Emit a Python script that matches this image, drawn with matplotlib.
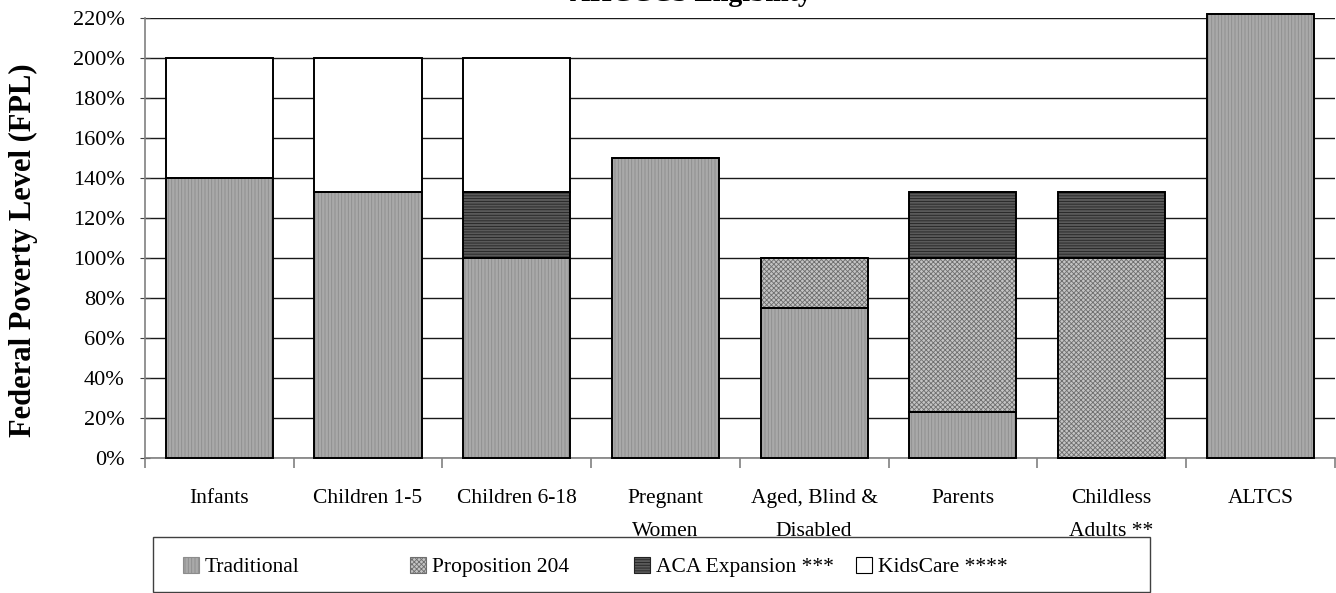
import numpy as np
from matplotlib import pyplot as plt
from matplotlib.patches import Patch, Rectangle
from matplotlib.ticker import FuncFormatter

categories = ["Infants", "Children 1-5", "Children 6-18", "Pregnant\nWomen",
              "Aged, Blind &\nDisabled", "Parents", "Childless\nAdults **", "ALTCS"]
traditional = [140, 133, 100, 150, 75, 23, 0, 222]
proposition_204 = [0, 0, 0, 0, 25, 77, 100, 0]
aca_expansion = [0, 0, 33, 0, 0, 33, 33, 0]
kidscare = [60, 67, 67, 0, 0, 0, 0, 0]

series = [
    ("Traditional", traditional, "#a9a9a9", "|||||", "#8c8c8c"),
    ("Proposition 204", proposition_204, "#c4c4c4", "xxxxxxx", "#6e6e6e"),
    ("ACA Expansion ***", aca_expansion, "#5a5a5a", "------", "#222222"),
    ("KidsCare ****", kidscare, "#ffffff", "", "#000000"),
]

plt.rcParams['font.family'] = ['Liberation Serif', 'DejaVu Serif']
plt.rcParams['hatch.linewidth'] = 0.6

fig = plt.figure(figsize=(13.36, 5.93), dpi=100)
ax = fig.add_axes([0.1085, 0.2277, 0.8905, 0.7419])

x = np.arange(len(categories))
bottom = np.zeros(len(categories))
for label, vals, face, hatch, hcol in series:
    vals = np.array(vals, dtype=float)
    ax.bar(x, vals, 0.72, bottom=bottom, color=face, hatch=hatch,
           edgecolor=hcol, linewidth=0, zorder=3, clip_on=False)
    # black outline drawn over the hatch
    ax.bar(x, vals, 0.72, bottom=bottom, fill=False, edgecolor="black",
           linewidth=1.4, zorder=4, clip_on=False)
    bottom += vals

ax.set_xlim(-0.5, len(categories) - 0.5)
ax.set_ylim(0, 220)
ax.set_yticks(np.arange(0, 221, 20))
ax.yaxis.set_major_formatter(FuncFormatter(lambda v, p: f"{v:.0f}%"))
ax.yaxis.grid(True, color="#1a1a1a", linewidth=1)
ax.set_axisbelow(True)

ax.set_xticks(x)
ax.set_xticklabels(categories, fontsize=15.5, linespacing=2.0, va="top")
ax.set_xticks(np.arange(-0.5, len(categories), 1), minor=True)
ax.tick_params(axis="x", which="major", length=0, pad=22)
ax.tick_params(axis="x", which="minor", length=7, width=1.2, color="#808080")
ax.tick_params(axis="y", labelsize=16, length=7, direction="inout",
               color="#404040", pad=11)

for s in ["top", "right"]:
    ax.spines[s].set_visible(False)
for s in ["left", "bottom"]:
    ax.spines[s].set_color("#808080")
    ax.spines[s].set_linewidth(1.2)

ax.set_ylabel("Federal Poverty Level (FPL)", fontsize=22, fontweight="bold")
ax.yaxis.set_label_coords(-0.0899, 0.473)

fig.text(812 / 1336, 1 - 1 / 593, "AHCCCS Eligibility", ha="right", va="baseline",
         fontsize=20, fontweight="bold")

# legend: one frame, entries set at even spacing like the original
fig.patches.append(Rectangle((153 / 1336, 0.001), 997 / 1336, (593 - 537) / 593 - 0.001,
                             transform=fig.transFigure, fill=False,
                             edgecolor="#404040", linewidth=1.0))
legend_x = [183, 410, 634, 856]
for (label, vals, face, hatch, hcol), lx in zip(series, legend_x):
    h = Patch(facecolor=face, hatch=hatch, edgecolor=hcol if hatch else "black",
              linewidth=0.8)
    fig.legend([h], [label], loc="center left",
               bbox_to_anchor=(lx / 1336, 1 - 567 / 593),
               fontsize=15.5, handlelength=0.75, handleheight=0.75,
               handletextpad=0.25, frameon=False, borderpad=0, borderaxespad=0)

fig.savefig("out.png", dpi=100)
